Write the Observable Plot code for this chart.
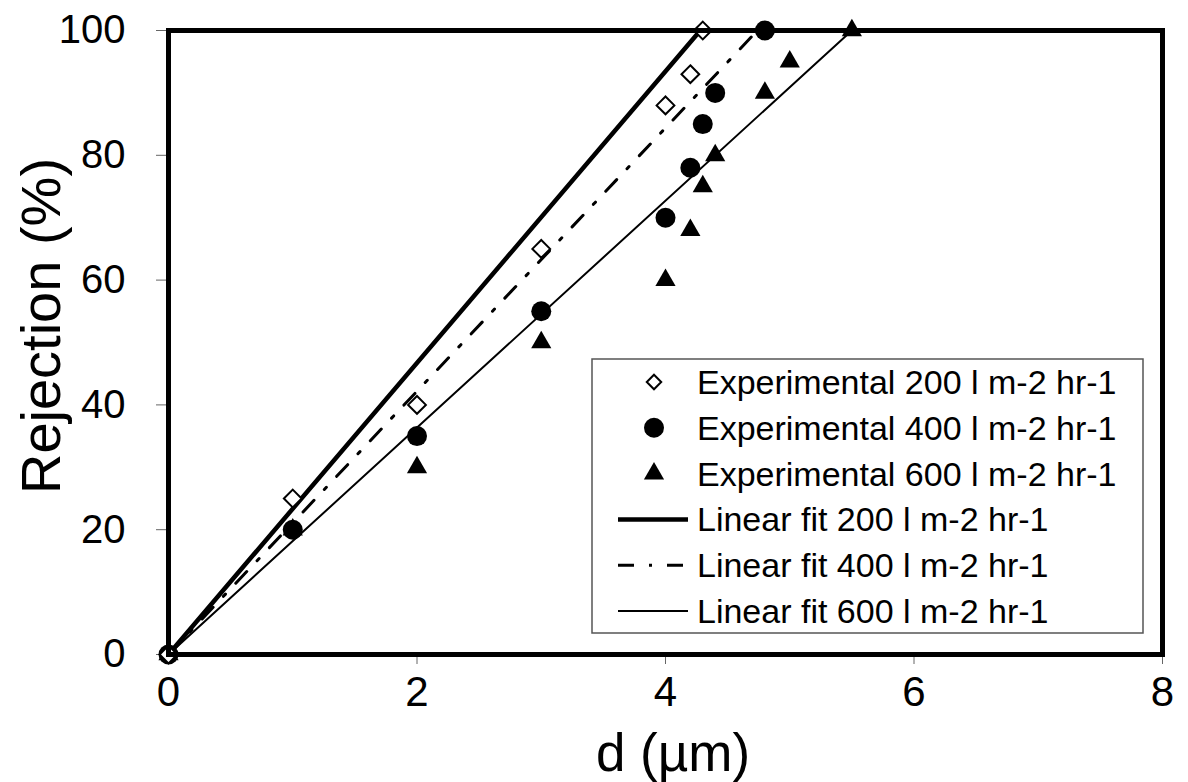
<!DOCTYPE html>
<html>
<head>
<meta charset="utf-8">
<script src="https://cdn.jsdelivr.net/npm/d3@7"></script>
<script src="https://cdn.jsdelivr.net/npm/@observablehq/plot@0.6"></script>
<style>
  html, body { margin: 0; padding: 0; background: #fff; }
  #chart { width: 1188px; height: 782px; }
</style>
</head>
<body>
<div id="chart"></div>
<script>
// ---- Data ----
const d200 = [0, 1, 2, 3, 4, 4.2, 4.3];
const r200 = [0, 25, 40, 65, 88, 93, 100];

const d400 = [0, 1, 2, 3, 4, 4.2, 4.3, 4.4, 4.8];
const r400 = [0, 20, 35, 55, 70, 78, 85, 90, 100];

const d600 = [0, 1, 2, 3, 4, 4.2, 4.3, 4.4, 4.8, 5, 5.5];
const r600 = [0, 20, 30, 50, 60, 68, 75, 80, 90, 95, 100];

// Linear fit endpoints (through origin, drawn until 100 %)
const fitD200 = [0, 4.28];
const fitD400 = [0, 4.74];
const fitD600 = [0, 5.5];
const fitR = [0, 100];

const xTicks = [0, 2, 4, 6, 8];
const yTicks = [0, 20, 40, 60, 80, 100];
const xTitle = "d (µm)";
const yTitle = "Rejection (%)";

const legendLabels = [
  "Experimental 200 l m-2 hr-1",
  "Experimental 400 l m-2 hr-1",
  "Experimental 600 l m-2 hr-1",
  "Linear fit 200 l m-2 hr-1",
  "Linear fit 400 l m-2 hr-1",
  "Linear fit 600 l m-2 hr-1"
];

const toPts = (xs, ys) => xs.map((x, i) => ({x, y: ys[i]}));
const pts200 = toPts(d200, r200);
const pts400 = toPts(d400, r400);
const pts600 = toPts(d600, r600);
const fit200 = toPts(fitD200, fitR);
const fit400 = toPts(fitD400, fitR);
const fit600 = toPts(fitD600, fitR);

const DASH = "16,15,3,15";
const FONT = "'Liberation Sans', Arial, Helvetica, sans-serif";

const plot = Plot.plot({
  width: 1188,
  height: 782,
  marginLeft: 168,
  marginRight: 26,
  marginTop: 30,
  marginBottom: 128,
  x: {domain: [0, 8]},
  y: {domain: [0, 100]},
  style: {fontFamily: FONT, background: "#fff", color: "#000"},
  marks: [
    Plot.axisY({ticks: yTicks, tickSize: 12, tickPadding: 31, fontSize: 40, label: null, stroke: "#666"}),
    Plot.axisX({ticks: xTicks, tickSize: 10, tickPadding: 12, fontSize: 42, label: null, stroke: "#666"}),
    Plot.line(fit600, {x: "x", y: "y", stroke: "#000", strokeWidth: 2}),
    Plot.line(fit400, {x: "x", y: "y", stroke: "#000", strokeWidth: 3, strokeDasharray: DASH}),
    Plot.line(fit200, {x: "x", y: "y", stroke: "#000", strokeWidth: 4.5}),
    Plot.dot(pts600, {x: "x", y: "y", symbol: "triangle", r: 7.5, fill: "#000", stroke: "none"}),
    Plot.dot(pts400, {x: "x", y: "y", symbol: "circle", r: 10, fill: "#000", stroke: "none"}),
    Plot.dot(pts200, {x: "x", y: "y", symbol: "diamond2", r: 8, fill: "#fff", stroke: "#000", strokeWidth: 2}),
    Plot.frame({stroke: "#000", strokeWidth: 5})
  ]
});

document.getElementById("chart").appendChild(plot);

const svg = d3.select(plot);

// ---- Axis titles ----
svg.append("text")
  .attr("transform", "translate(60,326) rotate(-90)")
  .attr("text-anchor", "middle")
  .attr("font-family", FONT)
  .attr("font-size", 56)
  .attr("fill", "#000")
  .text(yTitle);

svg.append("text")
  .attr("x", 673).attr("y", 771)
  .attr("text-anchor", "middle")
  .attr("font-family", FONT)
  .attr("font-size", 53)
  .attr("fill", "#000")
  .text(xTitle);

// ---- Legend ----
const lg = svg.append("g").attr("font-family", FONT);
const box = {x: 592, y: 359, w: 551, h: 274};
lg.append("rect")
  .attr("x", box.x).attr("y", box.y).attr("width", box.w).attr("height", box.h)
  .attr("fill", "#fff").attr("stroke", "#555").attr("stroke-width", 1.5);

const rowY = i => 382 + i * 45.8;
const symX = 654, lineX0 = 618, lineX1 = 688, textX = 697;
const sym = (type, r) => d3.symbol().type(type).size(Math.PI * r * r)();

legendLabels.forEach((label, i) => {
  const y = rowY(i);
  if (i === 0) {
    lg.append("path").attr("d", sym(d3.symbolDiamond2, 6.5))
      .attr("transform", `translate(${symX},${y})`)
      .attr("fill", "#fff").attr("stroke", "#000").attr("stroke-width", 2);
  } else if (i === 1) {
    lg.append("path").attr("d", sym(d3.symbolCircle, 10))
      .attr("transform", `translate(${symX},${y})`).attr("fill", "#000");
  } else if (i === 2) {
    lg.append("path").attr("d", sym(d3.symbolTriangle, 7.5))
      .attr("transform", `translate(${symX},${y})`).attr("fill", "#000");
  } else {
    const sw = i === 3 ? 4.5 : i === 4 ? 3 : 2;
    const ln = lg.append("line")
      .attr("x1", lineX0).attr("x2", lineX1).attr("y1", y).attr("y2", y)
      .attr("stroke", "#000").attr("stroke-width", sw);
    if (i === 4) ln.attr("stroke-dasharray", DASH);
  }
  lg.append("text")
    .attr("x", textX).attr("y", y)
    .attr("dy", "0.35em")
    .attr("text-anchor", "start")
    .attr("font-size", 34)
    .attr("fill", "#000")
    .text(label);
});
</script>
</body>
</html>
